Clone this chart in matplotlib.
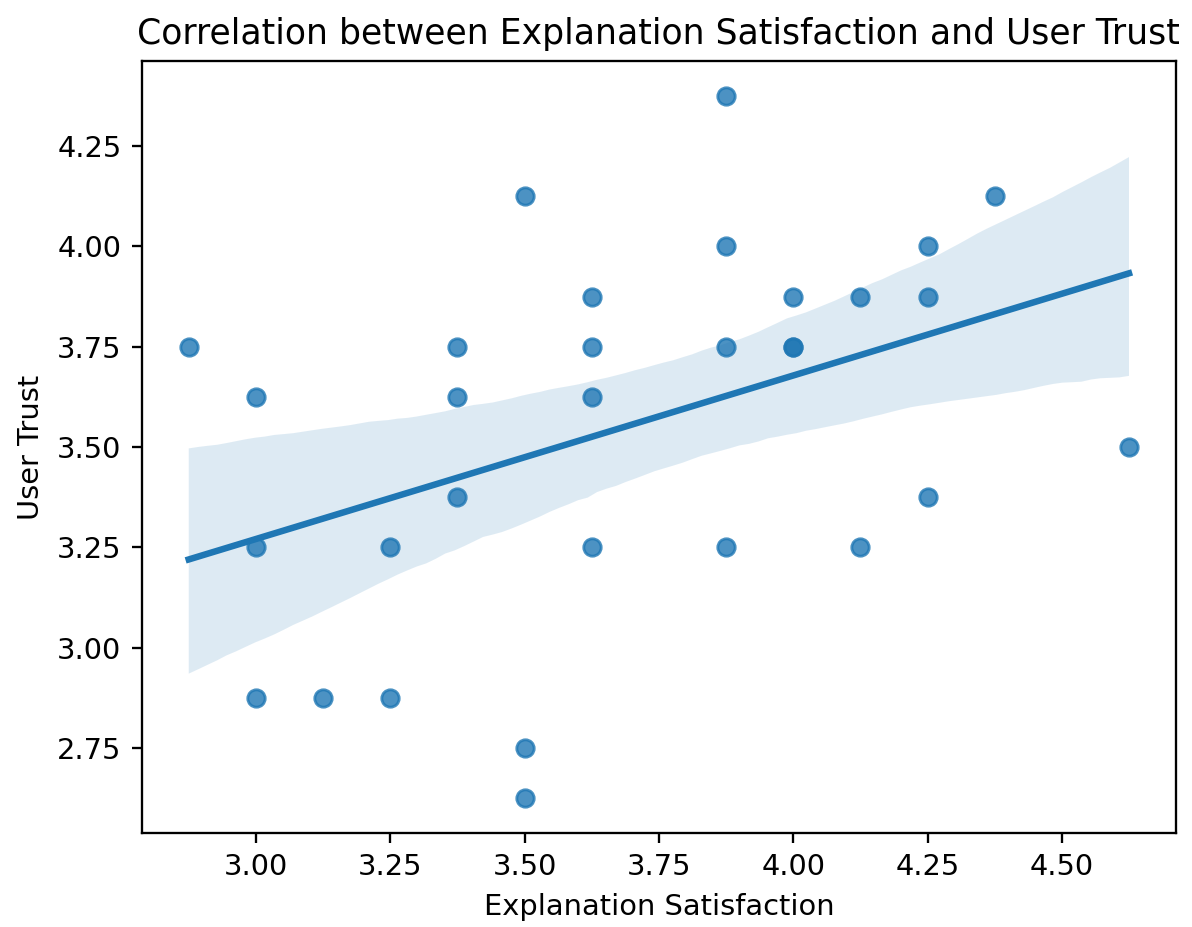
import matplotlib
matplotlib.use('Agg')
import matplotlib.pyplot as plt
import seaborn as sns
import pandas as pd

# explanation satisfaction vs user trust, one row per participant
satisfaction = [2.875, 3.0, 3.0, 3.0, 3.125, 3.25, 3.25, 3.375, 3.375, 3.375,
                3.5, 3.5, 3.5, 3.625, 3.625, 3.625, 3.625, 3.875, 3.875, 3.875,
                3.875, 4.0, 4.0, 4.0, 4.125, 4.125, 4.25, 4.25, 4.25, 4.375, 4.625]
trust = [3.75, 3.625, 3.25, 2.875, 2.875, 3.25, 2.875, 3.75, 3.625, 3.375,
         4.125, 2.75, 2.625, 3.875, 3.75, 3.625, 3.25, 4.375, 4.0, 3.75,
         3.25, 3.875, 3.75, 3.75, 3.875, 3.25, 4.0, 3.875, 3.375, 4.125, 3.5]

df = pd.DataFrame({'Explanation Satisfaction': satisfaction, 'User Trust': trust})

dpi = 208
fig = plt.figure(figsize=(1192 / dpi, 927 / dpi), dpi=dpi)
ax = fig.add_axes([0.1189, 0.1014, 0.8677, 0.8328])
sns.regplot(data=df, x='Explanation Satisfaction', y='User Trust', ax=ax, seed=3)
ax.set_title('Correlation between Explanation Satisfaction and User Trust')
ax.set_xticks([3.0, 3.25, 3.5, 3.75, 4.0, 4.25, 4.5])
ax.set_yticks([2.75, 3.0, 3.25, 3.5, 3.75, 4.0, 4.25])
fig.savefig('out.png', dpi=dpi)
